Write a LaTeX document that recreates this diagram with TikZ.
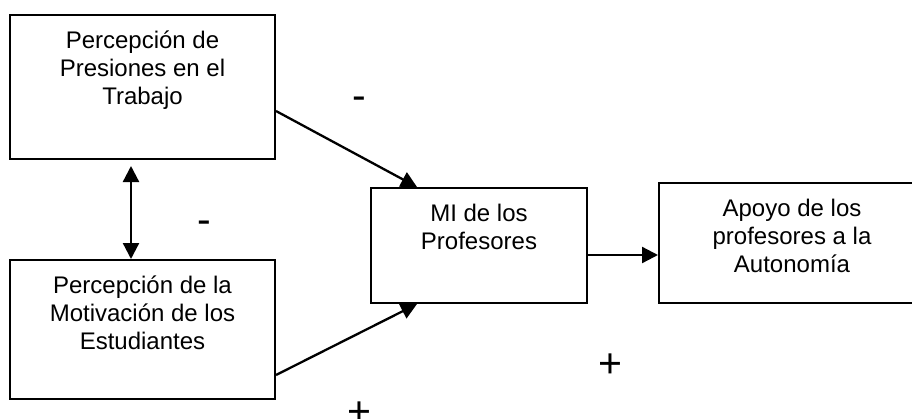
\documentclass[tikz,border=0pt]{standalone}
\usepackage{fontspec}
\setmainfont{Liberation Sans}
\usetikzlibrary{arrows.meta}
\begin{document}
\begin{tikzpicture}[x=1pt,y=-1pt,
  box/.style={draw=black, line width=2pt, fill=white, rectangle, inner sep=0pt},
  txt/.style={anchor=north, inner sep=0pt, align=center, font=\fontsize{24}{28}\selectfont},
  sign/.style={anchor=base, inner sep=0pt, font=\fontsize{41}{46}\selectfont},
  conn/.style={line width=2.3pt, -{Triangle[length=16pt,width=16pt]}},
  bconn/.style={line width=2.3pt, {Triangle[length=16pt,width=16pt]}-{Triangle[length=16pt,width=16pt]}}]
\useasboundingbox (0,0) rectangle (912,418);
\clip (0,0) rectangle (912,418);
\fill[white] (0,0) rectangle (912,418);
% boxes
\node[box, minimum width=265pt, minimum height=144pt] (b1) at (142.5,87) {};
\node[box, minimum width=265pt, minimum height=139pt] (b2) at (142.5,329.5) {};
\node[box, minimum width=216pt, minimum height=115pt] (b3) at (479,245.5) {};
\node[box, minimum width=266pt, minimum height=120pt] (b4) at (792,243) {};
% texts
\node[txt] (t1) at (142.5,28.4) {\strut Percepción de\\Presiones en el\\Trabajo};
\node[txt] (t2) at (142.5,273.4) {\strut Percepción de la\\Motivación de los\\Estudiantes};
\node[txt] (t3) at (479,201.4) {\strut MI de los\\Profesores};
\node[txt] (t4) at (792,196.4) {\strut Apoyo de los\\profesores a la\\Autonomía};
% connectors
\draw[conn] ([yshift=-24pt]b1.east) -- ([xshift=47pt]b3.north west);
\draw[conn] ([yshift=-45.5pt]b2.east) -- ([xshift=47pt]b3.south west);
\draw[bconn] ([xshift=-11.5pt,yshift=-6pt]b1.south) -- ([xshift=-11.5pt]b2.north);
\draw[conn] ([yshift=-9.5pt]b3.east) -- ([yshift=-12pt]b4.west);
% signs
\node[sign] (s1) at (359,109.4) {-};
\node[sign] (s2) at (204,233.4) {-};
\node[sign] (s3) at (610.7,377) {+};
\node[sign] (s4) at (359,425.5) {+};
\end{tikzpicture}
\end{document}
